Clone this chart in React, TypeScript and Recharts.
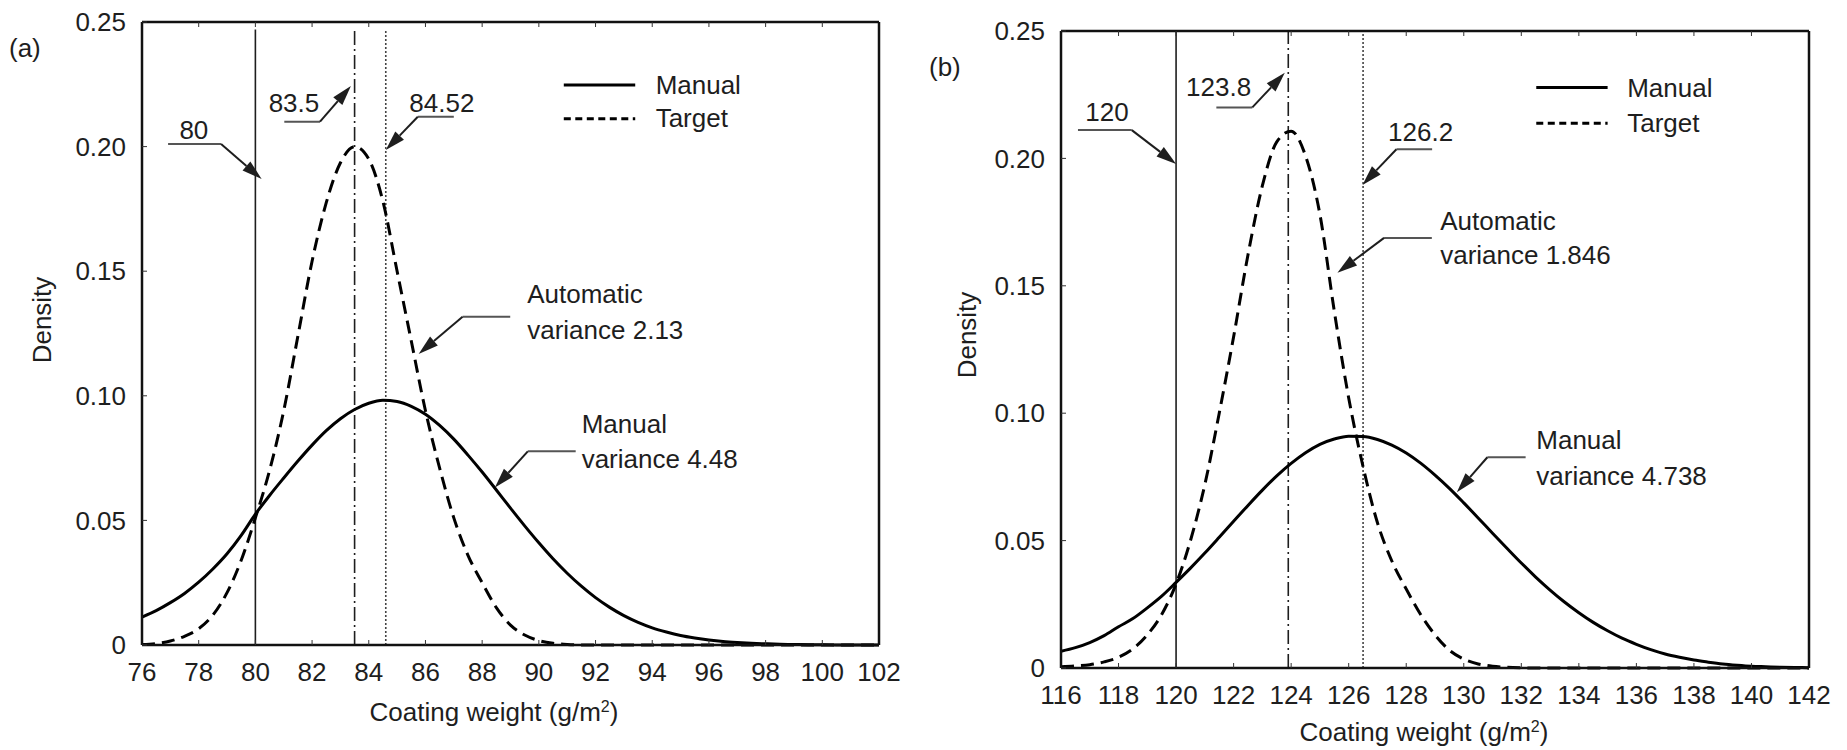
import React from "react";
import { LineChart, Line, XAxis, YAxis, ReferenceLine, ReferenceDot } from "recharts";

const FONT = "'Liberation Sans', Arial, Helvetica, sans-serif";
const INK = "#1e1e1e";
const LEADER = "#555";
const FS = 26;

// ---- panel (a) ----
const xA = [
  76, 76.5, 77, 77.5, 78, 78.5, 79, 79.5, 80, 80.5, 81, 81.5, 82, 82.5, 83, 83.5, 84, 84.5,
  85, 85.5, 86, 86.5, 87, 87.5, 88, 88.5, 89, 89.5, 90, 90.5, 91, 91.5, 92, 92.5, 93, 93.5,
  94, 94.5, 95, 95.5, 96, 96.5, 97, 97.5, 98, 98.5, 99, 99.5, 100, 100.5, 101, 101.5, 102,
];
const manualA = [
  0.0112, 0.0138, 0.017, 0.0207, 0.0252, 0.0305, 0.0366, 0.044, 0.0525, 0.06, 0.067, 0.0738,
  0.0802, 0.086, 0.0908, 0.0945, 0.097, 0.0982, 0.0977, 0.0958, 0.0926, 0.0881, 0.0826, 0.0762,
  0.0694, 0.0622, 0.0549, 0.0478, 0.041, 0.0346, 0.0288, 0.0236, 0.019, 0.0151, 0.0118, 0.0091,
  0.0069, 0.0052, 0.0038, 0.0028, 0.002, 0.0014, 0.001, 0.0007, 0.0005, 0.0003, 0.0002, 0.0001,
  0.0001, 0, 0, 0, 0,
];
const autoA = [
  0.0002, 0.0006, 0.0016, 0.0035, 0.0065, 0.012, 0.021, 0.034, 0.051, 0.07, 0.094, 0.124,
  0.154, 0.1775, 0.1935, 0.2, 0.195, 0.178, 0.15, 0.122, 0.094, 0.071, 0.051, 0.036, 0.025,
  0.015, 0.008, 0.004, 0.0018, 0.0007, 0.0002, 0, 0, 0, 0, 0, 0, 0, 0, 0, 0, 0, 0, 0, 0, 0, 0,
  0, 0, 0, 0, 0, 0,
];
const ticksA = [76, 78, 80, 82, 84, 86, 88, 90, 92, 94, 96, 98, 100, 102];

// ---- panel (b) ----
const xB = [
  116, 116.5, 117, 117.5, 118, 118.5, 119, 119.5, 120, 120.5, 121, 121.5, 122, 122.5, 123,
  123.5, 124, 124.5, 125, 125.5, 126, 126.5, 127, 127.5, 128, 128.5, 129, 129.5, 130, 130.5,
  131, 131.5, 132, 132.5, 133, 133.5, 134, 134.5, 135, 135.5, 136, 136.5, 137, 137.5, 138,
  138.5, 139, 139.5, 140, 140.5, 141, 141.5, 142,
];
const manualB = [
  0.0066, 0.008, 0.01, 0.0127, 0.0162, 0.0194, 0.0236, 0.0282, 0.0336, 0.0392, 0.0451, 0.0513,
  0.0576, 0.0638, 0.0698, 0.0754, 0.0803, 0.0845, 0.0878, 0.0899, 0.091, 0.0909, 0.0897,
  0.0875, 0.0844, 0.0804, 0.0757, 0.0705, 0.0648, 0.0589, 0.0529, 0.047, 0.0412, 0.0357,
  0.0306, 0.0259, 0.0217, 0.0179, 0.0146, 0.0117, 0.0093, 0.0072, 0.0055, 0.0042, 0.0031,
  0.0023, 0.0016, 0.0011, 0.0007, 0.0005, 0.0003, 0.0002, 0.0001,
];
const autoB = [
  0.0005, 0.0008, 0.0013, 0.0024, 0.0042, 0.0075, 0.013, 0.021, 0.033, 0.05, 0.072, 0.1, 0.13,
  0.1622, 0.1893, 0.2065, 0.2107, 0.201, 0.178, 0.14, 0.106, 0.079, 0.057, 0.042, 0.031, 0.021,
  0.013, 0.007, 0.0035, 0.0016, 0.0007, 0.0003, 0.0001, 0, 0, 0, 0, 0, 0, 0, 0, 0, 0, 0, 0, 0,
  0, 0, 0, 0, 0, 0, 0,
];
const ticksB = [116, 118, 120, 122, 124, 126, 128, 130, 132, 134, 136, 138, 140, 142];

const yTicks = [0, 0.05, 0.1, 0.15, 0.2, 0.25];

// vertical markers
const vertA = [
  { x: 80, top: 0.247, dash: undefined, color: INK },
  { x: 83.5, top: 0.247, dash: "14 4 2 4", color: INK },
  { x: 84.6, top: 0.247, dash: "2 2", color: "#444" },
];
const vertB = [
  { x: 120, top: 0.25, dash: undefined, color: INK },
  { x: 123.9, top: 0.25, dash: "14 4 2 4", color: INK },
  { x: 126.5, top: 0.25, dash: "2 2", color: "#444" },
];

// callouts: leader from (hx, y) to (kx, y), arrow from (kx, y) to tip
const calloutsA = [
  { hx: 76.92, kx: 78.79, y: 0.201, tx: 80.22, ty: 0.187 },
  { hx: 81.02, kx: 82.28, y: 0.21, tx: 83.37, ty: 0.2243 },
  { hx: 87.0, kx: 85.73, y: 0.212, tx: 84.6, ty: 0.1986 },
  { hx: 88.99, kx: 87.31, y: 0.1317, tx: 85.76, ty: 0.1168 },
  { hx: 91.3, kx: 89.61, y: 0.0777, tx: 88.45, ty: 0.0632 },
];
const textsA = [
  { x: 77.83, y: 0.203, s: "80", anchor: "middle" },
  { x: 81.36, y: 0.2139, s: "83.5", anchor: "middle" },
  { x: 86.58, y: 0.2139, s: "84.52", anchor: "middle" },
  { x: 89.59, y: 0.1372, s: "Automatic", anchor: "start" },
  { x: 89.59, y: 0.1226, s: "variance 2.13", anchor: "start" },
  { x: 91.51, y: 0.085, s: "Manual", anchor: "start" },
  { x: 91.51, y: 0.0709, s: "variance 4.48", anchor: "start" },
  { x: 94.12, y: 0.2211, s: "Manual", anchor: "start" },
  { x: 94.12, y: 0.2077, s: "Target", anchor: "start" },
];
const legendA = { x1: 90.88, x2: 93.4, ySolid: 0.2247, yDash: 0.2112 };

const calloutsB = [
  { hx: 116.59, kx: 118.46, y: 0.2111, tx: 120.0, ty: 0.1978 },
  { hx: 121.4, kx: 122.65, y: 0.22, tx: 123.78, ty: 0.2336 },
  { hx: 128.9, kx: 127.66, y: 0.2036, tx: 126.48, ty: 0.1896 },
  { hx: 128.89, kx: 127.23, y: 0.1688, tx: 125.61, ty: 0.1551 },
  { hx: 132.15, kx: 130.82, y: 0.0827, tx: 129.76, ty: 0.069 },
];
const textsB = [
  { x: 117.6, y: 0.2147, s: "120", anchor: "middle" },
  { x: 121.48, y: 0.2243, s: "123.8", anchor: "middle" },
  { x: 128.5, y: 0.2068, s: "126.2", anchor: "middle" },
  { x: 129.18, y: 0.1718, s: "Automatic", anchor: "start" },
  { x: 129.18, y: 0.1584, s: "variance 1.846", anchor: "start" },
  { x: 132.52, y: 0.0861, s: "Manual", anchor: "start" },
  { x: 132.52, y: 0.0719, s: "variance 4.738", anchor: "start" },
  { x: 135.68, y: 0.2241, s: "Manual", anchor: "start" },
  { x: 135.68, y: 0.2102, s: "Target", anchor: "start" },
];
const legendB = { x1: 132.52, x2: 135.0, ySolid: 0.2278, yDash: 0.2138 };

function Arrow(props: any) {
  const { x1, y1, x2, y2 } = props;
  const a = Math.atan2(y2 - y1, x2 - x1);
  const L = 20;
  const W = 6;
  const bx = x2 - L * Math.cos(a);
  const by = y2 - L * Math.sin(a);
  const px = -Math.sin(a) * W;
  const py = Math.cos(a) * W;
  return (
    <g>
      <line x1={x1} y1={y1} x2={bx} y2={by} stroke={INK} strokeWidth={2} />
      <polygon points={`${x2},${y2} ${bx + px},${by + py} ${bx - px},${by - py}`} fill={INK} />
    </g>
  );
}

const fmtY = (v: number) => (v === 0 ? "0" : v.toFixed(2));

type PanelProps = {
  xs: number[];
  manual: number[];
  auto: number[];
  ticks: number[];
  width: number;
  margin: { top: number; right: number; bottom: number; left: number };
  verts: typeof vertA;
  callouts: typeof calloutsA;
  texts: typeof textsA;
  legend: typeof legendA;
};

function Panel({ xs, manual, auto, ticks, width, margin, verts, callouts, texts, legend }: PanelProps) {
  const data = xs.map((x, i) => ({ x, manual: manual[i], auto: auto[i] }));
  const domain = [ticks[0], ticks[ticks.length - 1]];
  const tickStyle = { fontSize: FS, fill: INK, fontFamily: FONT };
  const axisLine = { stroke: "#111", strokeWidth: 2.5 };
  return (
    <LineChart width={width} height={750} data={data} margin={margin}>
      <XAxis
        dataKey="x"
        type="number"
        domain={domain}
        ticks={ticks}
        allowDataOverflow
        interval={0}
        tick={tickStyle}
        tickSize={-5}
        tickMargin={23}
        tickLine={{ stroke: "#333" }}
        axisLine={axisLine}
        height={40}
      />
      <XAxis
        xAxisId="top"
        orientation="top"
        dataKey="x"
        type="number"
        domain={domain}
        ticks={ticks}
        interval={0}
        tick={() => null}
        tickSize={-5}
        tickLine={{ stroke: "#333" }}
        axisLine={axisLine}
        height={1}
      />
      <YAxis
        type="number"
        domain={[0, 0.25]}
        ticks={yTicks}
        interval={0}
        tickFormatter={fmtY}
        tick={tickStyle}
        tickSize={-5}
        tickMargin={21}
        tickLine={{ stroke: "#333" }}
        axisLine={axisLine}
        width={60}
      />
      <YAxis
        yAxisId="right"
        orientation="right"
        type="number"
        domain={[0, 0.25]}
        ticks={yTicks}
        interval={0}
        tick={() => null}
        tickSize={-5}
        tickLine={{ stroke: "#333" }}
        axisLine={axisLine}
        width={1}
      />
      {verts.map((v) => (
        <ReferenceLine
          key={`v${v.x}`}
          segment={[{ x: v.x, y: 0 }, { x: v.x, y: v.top }]}
          stroke={v.color}
          strokeWidth={1.6}
          strokeDasharray={v.dash}
        />
      ))}
      <Line
        dataKey="manual"
        type="monotone"
        stroke="#000"
        strokeWidth={3}
        dot={false}
        isAnimationActive={false}
      />
      <Line
        dataKey="auto"
        type="monotone"
        stroke="#000"
        strokeWidth={3}
        strokeDasharray="13 7"
        dot={false}
        isAnimationActive={false}
      />
      {callouts.map((c, i) => (
        <ReferenceLine
          key={`h${i}`}
          segment={[{ x: c.hx, y: c.y }, { x: c.kx, y: c.y }]}
          stroke={LEADER}
          strokeWidth={2}
        />
      ))}
      {callouts.map((c, i) => (
        <ReferenceLine
          key={`a${i}`}
          segment={[{ x: c.kx, y: c.y }, { x: c.tx, y: c.ty }]}
          shape={Arrow}
        />
      ))}
      <ReferenceLine
        segment={[{ x: legend.x1, y: legend.ySolid }, { x: legend.x2, y: legend.ySolid }]}
        stroke="#000"
        strokeWidth={3}
      />
      <ReferenceLine
        segment={[{ x: legend.x1, y: legend.yDash }, { x: legend.x2, y: legend.yDash }]}
        stroke="#000"
        strokeWidth={3}
        strokeDasharray="7 4.5"
      />
      {texts.map((t, i) => (
        <ReferenceDot
          key={`t${i}`}
          x={t.x}
          y={t.y}
          r={1}
          shape={(p: any) => (
            <text
              x={p.cx}
              y={p.cy}
              textAnchor={t.anchor as any}
              fontSize={FS}
              fontFamily={FONT}
              fill={INK}
            >
              {t.s}
            </text>
          )}
        />
      ))}
    </LineChart>
  );
}

const label: React.CSSProperties = {
  position: "absolute",
  fontFamily: FONT,
  fontSize: FS,
  color: INK,
  whiteSpace: "nowrap",
  lineHeight: 1,
};

export default function App() {
  return (
    <div style={{ position: "absolute", left: 0, top: 0, width: 1847, height: 750, background: "#fff" }}>
      <div style={{ position: "absolute", left: 0, top: 0 }}>
        <Panel
          xs={xA}
          manual={manualA}
          auto={autoA}
          ticks={ticksA}
          width={920}
          margin={{ top: 21, right: 40, bottom: 65, left: 82 }}
          verts={vertA}
          callouts={calloutsA}
          texts={textsA}
          legend={legendA}
        />
      </div>
      <div style={{ position: "absolute", left: 920, top: 0 }}>
        <Panel
          xs={xB}
          manual={manualB}
          auto={autoB}
          ticks={ticksB}
          width={927}
          margin={{ top: 30, right: 37, bottom: 42, left: 81 }}
          verts={vertB}
          callouts={calloutsB}
          texts={textsB}
          legend={legendB}
        />
      </div>
      <div style={{ ...label, left: 9, top: 35 }}>(a)</div>
      <div style={{ ...label, left: 929, top: 54 }}>(b)</div>
      <div style={{ ...label, left: 42, top: 320, transform: "translate(-50%, -50%) rotate(-90deg)" }}>Density</div>
      <div style={{ ...label, left: 967, top: 335, transform: "translate(-50%, -50%) rotate(-90deg)" }}>Density</div>
      <div style={{ ...label, left: 494, top: 712, transform: "translate(-50%, -50%)" }}>
        Coating weight (g/m<sup style={{ fontSize: 16 }}>2</sup>)
      </div>
      <div style={{ ...label, left: 1424, top: 732, transform: "translate(-50%, -50%)" }}>
        Coating weight (g/m<sup style={{ fontSize: 16 }}>2</sup>)
      </div>
    </div>
  );
}
